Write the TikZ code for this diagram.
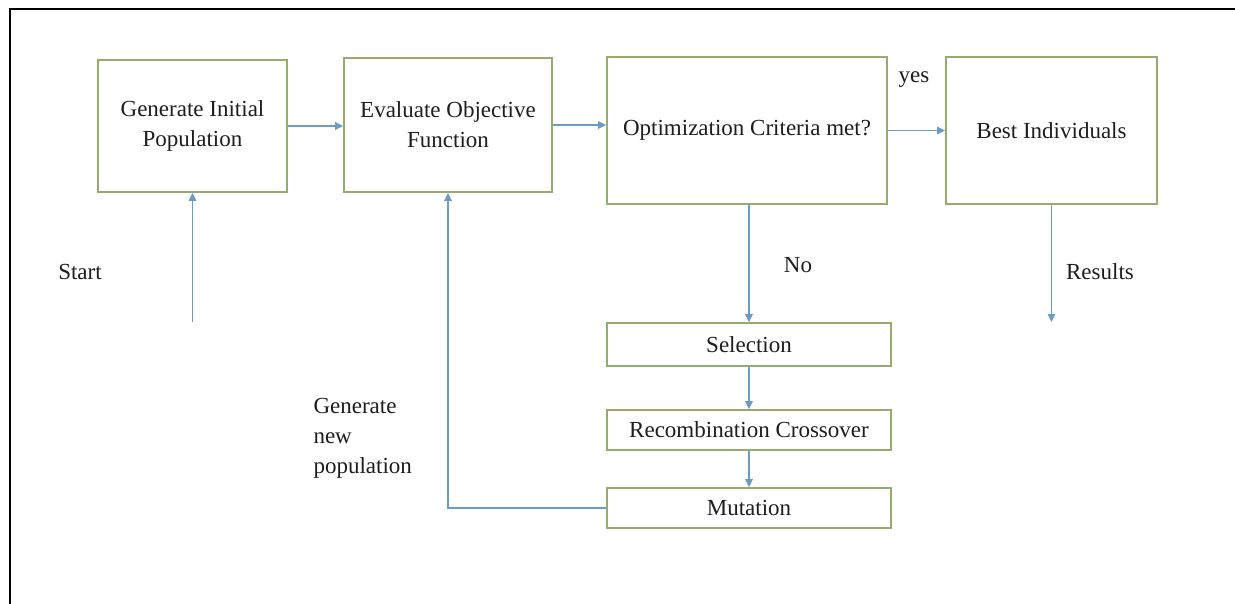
\documentclass[tikz,border=0pt]{standalone}
\usepackage{fontspec}
\setmainfont{Liberation Serif}
\usetikzlibrary{arrows.meta}
\definecolor{boxgreen}{RGB}{150,172,110}
\definecolor{flowblue}{RGB}{108,156,196}
\definecolor{inkgray}{RGB}{30,30,30}
\tikzset{
  stagebox/.style={draw=boxgreen, line width=1.6pt, fill=white, text=inkgray,
    align=center, inner sep=0pt, font=\fontsize{23}{30}\selectfont},
  flow/.style={draw=flowblue, line width=1.6pt,
    -{Triangle[length=8pt,width=7.5pt]}},
  plain/.style={text=inkgray, font=\fontsize{23}{30}\selectfont}
}
\begin{document}
\begin{tikzpicture}[x=1pt,y=-1pt]
  \useasboundingbox (0,0) rectangle (1235,604);
  \fill[white] (0,0) rectangle (1235,604);
  % frame
  \draw[line width=2.2pt, black] (10,604) -- (10,9) -- (1235,9);

  % stages of the main loop
  \node[stagebox, minimum width=189pt, minimum height=132pt] (init) at (192.5,126)
    {Generate Initial\\Population};
  \node[stagebox, minimum width=208pt, minimum height=134pt] (eval) at (448,125)
    {Evaluate Objective\\Function};
  \node[stagebox, minimum width=280pt, minimum height=147pt] (crit) at (747,130.5)
    {Optimization Criteria met?};
  \node[stagebox, minimum width=211pt, minimum height=147pt] (best) at (1051.5,130.5)
    {Best Individuals};
  \node[stagebox, minimum width=284pt, minimum height=43pt] (sel) at (749,344.5)
    {Selection};
  \node[stagebox, minimum width=284pt, minimum height=40pt] (reco) at (749,430)
    {Recombination Crossover};
  \node[stagebox, minimum width=284pt, minimum height=40pt] (mut) at (749,508)
    {Mutation};

  % free ends
  \coordinate (startpt) at (192.5,322);
  \coordinate (respt) at (1051.5,322);

  % connectors
  \draw[flow] (init.east) -- (init.east -| eval.west);
  \draw[flow] (eval.east) -- (eval.east -| crit.west);
  \draw[flow] (crit.east) -- (best.west);
  \draw[flow] (startpt) -- (init.south);
  \draw[flow] (sel.north |- crit.south) -- (sel.north);
  \draw[flow] (sel.south) -- (reco.north);
  \draw[flow] (reco.south) -- (mut.north);
  \draw[flow] (mut.west) -- (mut.west -| eval.south) -- (eval.south);
  \draw[flow] (best.south) -- (respt);

  % labels
  \node[plain] (lstart) at (80,272) {Start};
  \node[plain] (lyes) at (914,80) {yes};
  \node[plain] (lno) at (798,265) {No};
  \node[plain] (lres) at (1100,272) {Results};
  \node[plain, align=left, anchor=west] (lgen) at (310,438)
    {Generate\\new\\population};
\end{tikzpicture}
\end{document}
